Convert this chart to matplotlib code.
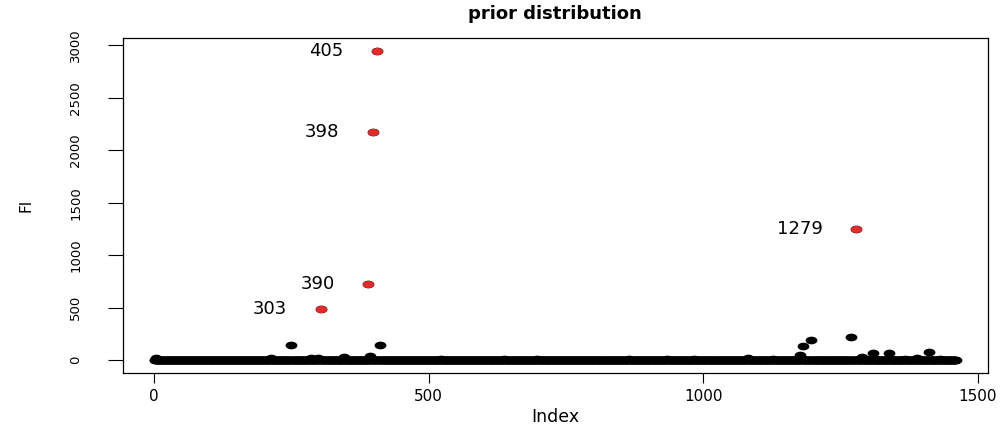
import matplotlib
matplotlib.use('Agg')
import matplotlib.pyplot as plt
import matplotlib.transforms as mtransforms
from matplotlib.path import Path
import numpy as np

# number of observations (index runs 1..n_obs), almost all of them sit at ~0
n_obs = 1460

# visible small bumps along the baseline (index, FI)
bump_index = [3, 212, 249, 285, 298, 345, 393, 411, 522, 637, 698, 865, 935,
              983, 1081, 1128, 1176, 1181, 1196, 1270, 1290, 1309, 1338, 1368,
              1390, 1411, 1432]
bump_value = [20, 25, 143, 20, 25, 30, 40, 150, 8, 15, 10, 12, 8,
              12, 25, 8, 50, 133, 190, 220, 30, 67, 67, 15,
              20, 80, 15]

# flagged influential points
red_index = [303, 390, 398, 405, 1279]
red_value = [485, 730, 2175, 2950, 1250]

fi = np.zeros(n_obs)
fi[np.array(bump_index) - 1] = bump_value
fi[np.array(red_index) - 1] = red_value
idx = np.arange(1, n_obs + 1)

# R pch=19 looks squashed in the reference, so use an ellipse marker
ell = Path.unit_circle().transformed(mtransforms.Affine2D().scale(1, 0.65))

fig = plt.figure(figsize=(10.08, 4.3), dpi=100)
ax = fig.add_axes([0.1217, 0.1333, 0.8582, 0.7783])

ax.plot(idx, fi, linestyle='none', marker=ell, markersize=8.5,
        color='black', markeredgewidth=0)
ax.plot(red_index, red_value, linestyle='none', marker=ell, markersize=8,
        color='#E62A2A', markeredgewidth=0)

for i, v in zip(red_index, red_value):
    ax.annotate(str(i), (i, v), xytext=(-24, 0), textcoords='offset points',
                ha='right', va='center', fontsize=13)

ax.set_xlim(1 - 0.04 * (n_obs - 1), n_obs + 0.04 * (n_obs - 1))
ax.set_ylim(-0.04 * max(red_value), 1.04 * max(red_value) + 2)
ax.set_xticks([0, 500, 1000, 1500])
ax.set_yticks([0, 500, 1000, 1500, 2000, 2500, 3000])
ax.tick_params(axis='x', length=7.5, width=0.8, pad=4, labelsize=11)
ax.tick_params(axis='y', length=11, width=0.8, pad=18, labelsize=9.5,
               labelrotation=90)
for lab in ax.get_yticklabels():
    lab.set_va('center')

for s in ax.spines.values():
    s.set_linewidth(0.9)

ax.set_xlabel('Index', fontsize=12.5, labelpad=3)
ax.set_ylabel('FI', fontsize=11, labelpad=26)
ax.set_title('prior distribution', fontsize=13, fontweight='bold', pad=14)

fig.savefig('out.png', dpi=100)
